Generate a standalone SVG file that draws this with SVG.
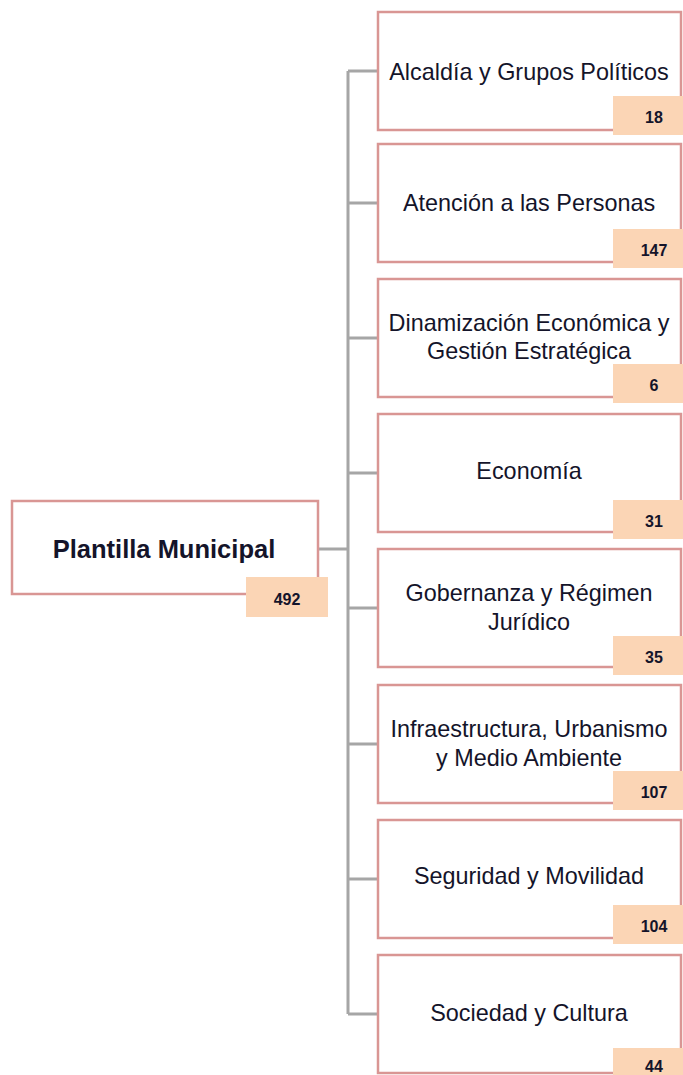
<svg xmlns="http://www.w3.org/2000/svg" width="683" height="1075" viewBox="0 0 683 1075">
<style>
.box{fill:#fff;stroke:#d99694;stroke-width:2.5}
.badge{fill:#fbd5b5}
.lbl{font-family:"Liberation Sans",Arial,sans-serif;font-size:23.4px;fill:#14142a;text-anchor:middle}
.root{font-family:"Liberation Sans",Arial,sans-serif;font-size:25.5px;font-weight:bold;fill:#14142a;text-anchor:middle}
.num{font-family:"Liberation Sans",Arial,sans-serif;font-size:16px;font-weight:bold;fill:#14142a;text-anchor:middle}
.conn{fill:none;stroke:#a6a6a6;stroke-width:3}
</style>
<rect width="683" height="1075" fill="#fff"/>
<g id="connectors">
<path class="conn" d="M318,549 H348 M348,71 V1014 M348,71 H378 M348,203 H378 M348,338 H378 M348,473 H378 M348,608 H378 M348,744 H378 M348,879 H378 M348,1014 H378"/>
</g>
<g id="root">
<rect class="box" x="12" y="501" width="306" height="93"/>
<text class="root" x="164" y="558">Plantilla Municipal</text>
<rect class="badge" x="246" y="577" width="82" height="40"/>
<text class="num" x="287" y="605">492</text>
</g>
<g id="n1">
<rect class="box" x="378" y="12" width="303" height="118"/>
<text class="lbl" x="529" y="80">Alcaldía y Grupos Políticos</text>
<rect class="badge" x="613" y="96" width="70" height="39"/>
<text class="num" x="654" y="123">18</text>
</g>
<g id="n2">
<rect class="box" x="378" y="144" width="303" height="118"/>
<text class="lbl" x="529" y="211">Atención a las Personas</text>
<rect class="badge" x="613" y="229" width="70" height="39"/>
<text class="num" x="654" y="256">147</text>
</g>
<g id="n3">
<rect class="box" x="378" y="279" width="303" height="118"/>
<text class="lbl" x="529" y="331">Dinamización Económica y</text>
<text class="lbl" x="529" y="359">Gestión Estratégica</text>
<rect class="badge" x="613" y="364" width="70" height="39"/>
<text class="num" x="654" y="391">6</text>
</g>
<g id="n4">
<rect class="box" x="378" y="414" width="303" height="118"/>
<text class="lbl" x="529" y="479">Economía</text>
<rect class="badge" x="613" y="500" width="70" height="39"/>
<text class="num" x="654" y="527">31</text>
</g>
<g id="n5">
<rect class="box" x="378" y="549" width="303" height="118"/>
<text class="lbl" x="529" y="601">Gobernanza y Régimen</text>
<text class="lbl" x="529" y="630">Jurídico</text>
<rect class="badge" x="613" y="636" width="70" height="39"/>
<text class="num" x="654" y="663">35</text>
</g>
<g id="n6">
<rect class="box" x="378" y="685" width="303" height="118"/>
<text class="lbl" x="529" y="737">Infraestructura, Urbanismo</text>
<text class="lbl" x="529" y="766">y Medio Ambiente</text>
<rect class="badge" x="613" y="771" width="70" height="39"/>
<text class="num" x="654" y="798">107</text>
</g>
<g id="n7">
<rect class="box" x="378" y="820" width="303" height="118"/>
<text class="lbl" x="529" y="884">Seguridad y Movilidad</text>
<rect class="badge" x="613" y="905" width="70" height="39"/>
<text class="num" x="654" y="932">104</text>
</g>
<g id="n8">
<rect class="box" x="378" y="955" width="303" height="118"/>
<text class="lbl" x="529" y="1021">Sociedad y Cultura</text>
<rect class="badge" x="613" y="1048" width="70" height="27"/>
<text class="num" x="654" y="1072">44</text>
</g>
</svg>
